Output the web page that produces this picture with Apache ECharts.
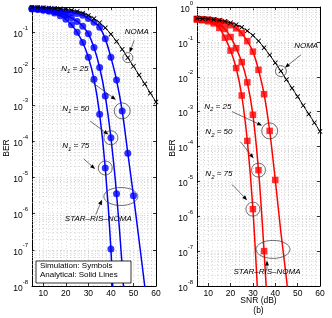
<!DOCTYPE html>
<html><head><meta charset="utf-8">
<script src="https://cdn.jsdelivr.net/npm/echarts@6/dist/echarts.min.js"></script>
<style>html,body{margin:0;padding:0;background:#fff}#c{width:332px;height:318px}</style>
</head><body><div id="c"></div>
<script>
// ---------- data (BER values) ----------
const snr = [5,7.5,10,12.5,15,17.5,20,22.5,25,27.5,30,32.5,35,37.5,40,42.5,45,47.5,50,52.5,55,57.5,60];
const xTicks = [10,20,30,40,50,60];
// panel (a)
const nomaA = [0.487,0.483,0.477,0.470,0.460,0.446,0.429,0.406,0.376,0.338,0.292,0.240,0.185,0.133,0.089,0.056,0.034,0.020,0.0116,0.0066,0.0038,0.0021,0.0012];
const starA25 = [0.452,0.447,0.437,0.427,0.41,0.39,0.372,0.35,0.33,0.295,0.24,0.19,0.138,0.066,0.0204,4.8e-3,6.8e-4,4.6e-5,3.1e-6,1.8e-7,1.0e-8,5e-10];
const starA50 = [0.447,0.437,0.417,0.398,0.372,0.339,0.295,0.251,0.2,0.148,0.0912,0.038,0.0107,1.74e-3,1.23e-4,3.5e-6,3.5e-8,1e-10];
const starA75 = [0.437,0.427,0.407,0.38,0.339,0.288,0.229,0.162,0.1,0.0525,0.0204,5.1e-3,5.5e-4,1.8e-5,1.05e-7,5e-11];
const simEndA = [50, 42.5, 40];   // last simulated SNR for N1 = 25, 50, 75
// panel (b)
const nomaB = [0.473,0.464,0.452,0.436,0.416,0.389,0.354,0.312,0.262,0.207,0.153,0.106,0.068,0.042,0.025,0.0145,0.0083,0.0047,0.0027,0.0015,0.00085,0.00048,0.00027];
const starB25 = [0.457,0.447,0.437,0.417,0.389,0.347,0.302,0.245,0.178,0.105,0.0525,0.0158,3.16e-3,2.8e-4,1.1e-5,3.5e-7,1.6e-8,5e-10];
const starB50 = [0.447,0.437,0.417,0.38,0.324,0.234,0.138,0.066,0.0263,6.9e-3,8.1e-4,2.1e-5,1.0e-7,1.6e-10];
const starB75 = [0.437,0.417,0.389,0.339,0.251,0.132,0.0562,0.0178,2.9e-3,1.45e-4,1.6e-6,2e-9];
const simEndB = [40, 35, 30];     // last simulated SNR for N2 = 25, 50, 75
const yTopBER = [0.5, 1];         // top of the BER axis of each panel

// ---------- chart ----------
const FONT = '"Liberation Sans", Arial, Helvetica, sans-serif';
const gridLine = {color: '#bdbdbd', type: [1, 2.5], width: 0.6};
const chart = echarts.init(document.getElementById('c'), null, {renderer: 'canvas'});
const lg = v => Math.log10(v);
const pts = arr => arr.map((b, i) => [snr[i], lg(b)]);

function xAx(g, pos) {
  return {type: 'value', gridIndex: g, position: pos, min: 5, max: 60, splitNumber: 5, minInterval: 10, maxInterval: 10,
    axisLine: {show: true, onZero: false, lineStyle: {color: '#000', width: 1}},
    axisTick: {show: true, inside: true, length: 3, lineStyle: {color: '#000', width: 0.8}},
    axisLabel: {show: pos === 'bottom', color: '#000', fontSize: 8.5, fontFamily: FONT, margin: 3,
      formatter: v => xTicks.includes(v) ? String(v) : ''},
    splitLine: {show: pos === 'bottom', lineStyle: gridLine}};
}
function yAx(g, pos) {
  return {type: 'value', gridIndex: g, position: pos, min: -8, max: lg(yTopBER[g]), interval: 1,
    axisLine: {show: true, onZero: false, lineStyle: {color: '#000', width: 1}},
    axisTick: {show: true, inside: true, length: 3, lineStyle: {color: '#000', width: 0.8}},
    axisLabel: {show: pos === 'left', margin: 4,
      formatter: v => Number.isInteger(v) ? '{b|10}{s|' + v + '}' : '',
      rich: {b: {fontSize: 8.5, fontFamily: FONT, color: '#000', lineHeight: 14, verticalAlign: 'bottom'},
             s: {fontSize: 6, fontFamily: FONT, color: '#000', lineHeight: 8, verticalAlign: 'top'}}},
    splitLine: {show: pos === 'left', lineStyle: gridLine}};
}
function minorGrid(g) {
  const top = lg(yTopBER[g]);
  const d = [];
  for (let n = -8; n < 0; n++) for (let k = 2; k <= 9; k++) {
    const v = n + Math.log10(k);
    if (v < top - 0.01) d.push({yAxis: v});
  }
  for (let x = 6; x < 60; x += 2) if (x % 10 !== 0) d.push({xAxis: x});
  return {type: 'line', xAxisIndex: g, yAxisIndex: g, data: [], silent: true, z: 1,
    markLine: {silent: true, symbol: ['none', 'none'], label: {show: false}, animation: false, z: 1,
      lineStyle: gridLine, emphasis: {disabled: true}, data: d}};
}
function curve(g, arr, color) {
  return {type: 'line', xAxisIndex: g, yAxisIndex: g, data: pts(arr), showSymbol: false, smooth: 0.3,
    clip: true, silent: true, z: 3, lineStyle: {color: color, width: 1.5}, itemStyle: {color: color}};
}
function sim(g, arr, end, symbol, size, color) {
  return {type: 'scatter', xAxisIndex: g, yAxisIndex: g, data: pts(arr).filter(p => p[0] <= end),
    symbol: symbol, symbolSize: size, silent: true, z: 4, itemStyle: {color: color}};
}
const X_SYMBOL = 'path://M0,1.2L1.2,0L5,3.8L8.8,0L10,1.2L6.2,5L10,8.8L8.8,10L5,6.2L1.2,10L0,8.8L3.8,5Z';
function noma(g, arr) {
  return {type: 'line', xAxisIndex: g, yAxisIndex: g, data: pts(arr), smooth: 0.3, showSymbol: true, showAllSymbol: true,
    symbol: X_SYMBOL, symbolSize: 5, silent: true, z: 5, lineStyle: {color: '#000', width: 1}, itemStyle: {color: '#000'}};
}
const BLUE = '#0000ff', RED = '#ff0000';
const option = {
  animation: false,
  backgroundColor: '#fff',
  grid: [
    {left: 32, right: 176, top: 7, bottom: 32, outerBoundsMode: 'none', containLabel: false},
    {left: 197, right: 12, top: 7, bottom: 32, outerBoundsMode: 'none', containLabel: false}
  ],
  xAxis: [xAx(0, 'bottom'), xAx(1, 'bottom'), xAx(0, 'top'), xAx(1, 'top')],
  yAxis: [yAx(0, 'left'), yAx(1, 'left'), yAx(0, 'right'), yAx(1, 'right')],
  series: [
    minorGrid(0), minorGrid(1),
    curve(0, starA25, BLUE), curve(0, starA50, BLUE), curve(0, starA75, BLUE),
    sim(0, starA25, simEndA[0], 'circle', 7, BLUE), sim(0, starA50, simEndA[1], 'circle', 7, BLUE), sim(0, starA75, simEndA[2], 'circle', 7, BLUE),
    noma(0, nomaA),
    curve(1, starB25, RED), curve(1, starB50, RED), curve(1, starB75, RED),
    sim(1, starB25, simEndB[0], 'rect', 6.5, RED), sim(1, starB50, simEndB[1], 'rect', 6.5, RED), sim(1, starB75, simEndB[2], 'rect', 6.5, RED),
    noma(1, nomaB)
  ]
};
chart.setOption(option);

// ---------- annotations (anchored in data coordinates) ----------
const P = (g, x, y) => chart.convertToPixel({xAxisIndex: g, yAxisIndex: g}, [x, y]);
const at = (g, arr, s) => P(g, s, lg(arr[snr.indexOf(s)]));
const STROKE = {stroke: '#333', lineWidth: 0.7, fill: 'none'};
const G = [];
function txt(p, text) {
  G.push({type: 'text', x: p[0], y: p[1], silent: true, z: 20, style: {text: text, fill: '#000',
    font: 'italic 8px ' + FONT, align: 'center', verticalAlign: 'middle',
    rich: {i: {fontStyle: 'italic', fontSize: 8, fontFamily: FONT, fill: '#000', lineHeight: 10, verticalAlign: 'top'},
           s: {fontStyle: 'italic', fontSize: 6, fontFamily: FONT, fill: '#000', lineHeight: 4, verticalAlign: 'bottom'}}}});
}
function arrow(p0, p1) {
  const dx = p1[0] - p0[0], dy = p1[1] - p0[1], L = Math.hypot(dx, dy), ux = dx / L, uy = dy / L;
  const hl = 5, hw = 2;
  const bx = p1[0] - ux * hl, by = p1[1] - uy * hl;
  G.push({type: 'line', silent: true, z: 20, shape: {x1: p0[0], y1: p0[1], x2: bx, y2: by}, style: {stroke: '#333', lineWidth: 0.7}});
  G.push({type: 'polygon', silent: true, z: 20, shape: {points: [[p1[0], p1[1]], [bx - uy * hw, by + ux * hw], [bx + uy * hw, by - ux * hw]]}, style: {fill: '#000'}});
}
function ring(p, r) { G.push({type: 'circle', silent: true, z: 20, shape: {cx: p[0], cy: p[1], r: r}, style: STROKE}); }
function oval(p, rx, ry) { G.push({type: 'ellipse', silent: true, z: 20, shape: {cx: p[0], cy: p[1], rx: rx, ry: ry}, style: STROKE}); }

// panel (a)
txt(P(0, 51.5, -1.0), '{i|NOMA}');
arrow(P(0, 50.3, -1.22), P(0, 48.3, -1.56));
ring(at(0, nomaA, 47.5), 5);
txt(P(0, 24.0, -2.02), '{i|N}{s|1}{i| = 25}');
arrow(P(0, 30.8, -2.34), P(0, 42.2, -2.86));
ring(at(0, starA25, 45), 8);
txt(P(0, 24.4, -3.13), '{i|N}{s|1}{i| = 50}');
arrow(P(0, 30.8, -3.45), P(0, 38.9, -3.82));
ring(at(0, starA50, 40), 7);
txt(P(0, 24.4, -4.16), '{i|N}{s|1}{i| = 75}');
arrow(P(0, 27.9, -4.49), P(0, 33.0, -4.77));
ring(at(0, starA75, 37.5), 7);
txt(P(0, 34.4, -6.17), '{i|STAR\u2013RIS\u2013NOMA}');
arrow(P(0, 33.3, -6.03), P(0, 36.0, -5.62));
oval(P(0, 44.4, -5.53), 17, 9);
// panel (b)
txt(P(1, 53.8, -1.13), '{i|NOMA}');
arrow(P(1, 51.5, -1.37), P(1, 44.3, -1.74));
ring(at(1, nomaB, 42.5), 5.5);
txt(P(1, 14.3, -2.89), '{i|N}{s|2}{i| = 25}');
arrow(P(1, 20.7, -3.0), P(1, 34.1, -3.4));
ring(at(1, starB25, 37.5), 8);
txt(P(1, 14.8, -3.62), '{i|N}{s|2}{i| = 50}');
arrow(P(1, 24.4, -3.86), P(1, 30.3, -4.34));
ring(at(1, starB50, 32.5), 7);
txt(P(1, 14.8, -4.82), '{i|N}{s|2}{i| = 75}');
arrow(P(1, 20.7, -5.09), P(1, 27.4, -5.54));
ring(at(1, starB75, 30), 7);
txt(P(1, 36.3, -7.63), '{i|STAR\u2013RIS\u2013NOMA}');
arrow(P(1, 36.3, -7.52), P(1, 36.3, -7.27));
oval(P(1, 39.0, -6.95), 17, 9);

// legend box (panel a)
G.push({type: 'rect', silent: true, z: 20, shape: {x: 36, y: 261, width: 95, height: 22}, style: {fill: '#fff', stroke: '#000', lineWidth: 0.8}});
G.push({type: 'text', silent: true, z: 21, x: 40, y: 265.8, style: {text: 'Simulation: Symbols', fill: '#000', font: '8px ' + FONT, align: 'left', verticalAlign: 'middle'}});
G.push({type: 'text', silent: true, z: 21, x: 40, y: 274.3, style: {text: 'Analytical: Solid Lines', fill: '#000', font: '8px ' + FONT, align: 'left', verticalAlign: 'middle'}});
// axis titles
G.push({type: 'text', silent: true, z: 21, x: 7, y: 148, rotation: Math.PI / 2, style: {text: 'BER', fill: '#000', font: '8.5px ' + FONT, align: 'center', verticalAlign: 'middle'}});
G.push({type: 'text', silent: true, z: 21, x: 172.5, y: 148, rotation: Math.PI / 2, style: {text: 'BER', fill: '#000', font: '8.5px ' + FONT, align: 'center', verticalAlign: 'middle'}});
G.push({type: 'text', silent: true, z: 21, x: 258.5, y: 301, style: {text: 'SNR (dB)', fill: '#000', font: '8.5px ' + FONT, align: 'center', verticalAlign: 'middle'}});
G.push({type: 'text', silent: true, z: 21, x: 258.5, y: 310.5, style: {text: '(b)', fill: '#000', font: '8.5px ' + FONT, align: 'center', verticalAlign: 'middle'}});
chart.setOption({graphic: G});
</script>
</body></html>
